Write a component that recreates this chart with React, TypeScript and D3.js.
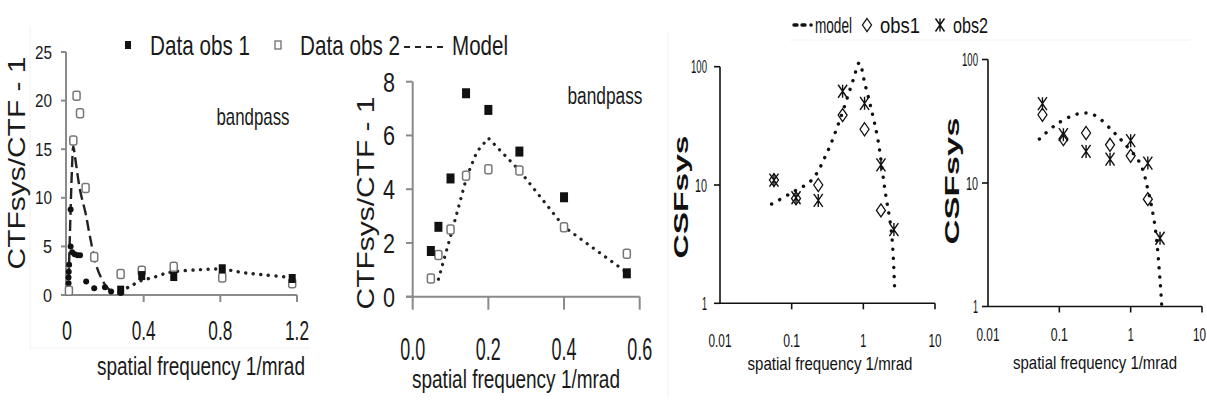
import * as d3 from "d3";

// panel 1 : CTF ratio, full range
const p1XTicks = [0, 0.4, 0.8, 1.2];
const p1XLabels = ["0", "0.4", "0.8", "1.2"];
const p1YTicks = [0, 5, 10, 15, 20, 25];
const p1Obs2X = [0.01, 0.033, 0.05, 0.068, 0.097, 0.142, 0.28, 0.39, 0.557, 0.81, 1.175];
const p1Obs2Y = [0.45, 15.9, 20.5, 18.7, 11.0, 3.9, 2.15, 2.5, 2.9, 1.8, 1.2];
const p1Obs1X = [0.28, 0.39, 0.557, 0.81, 1.175];
const p1Obs1Y = [0.5, 2.0, 1.9, 2.7, 1.7];
const p1LowX = [0.008, 0.008, 0.009, 0.011, 0.019, 0.019, 0.027, 0.04, 0.055, 0.068, 0.1, 0.142, 0.198, 0.23, 0.28];
const p1LowY = [1.2, 1.8, 2.4, 3.1, 5.0, 8.8, 4.4, 4.2, 4.1, 4.1, 1.4, 0.7, 0.8, 0.35, 0.2];
const p1DashX = [0.006, 0.012, 0.019, 0.026, 0.033, 0.042, 0.068, 0.097, 0.12, 0.155, 0.2, 0.24];
const p1DashY = [0, 4, 8.8, 13, 15.3, 14.2, 10.8, 8.4, 6, 2.9, 1.0, 0.2];
const p1DotX = [0.28, 0.33, 0.39, 0.45, 0.51, 0.557, 0.69, 0.81, 0.92, 1.04, 1.175];
const p1DotY = [0.4, 0.9, 1.5, 1.8, 2.2, 2.4, 2.6, 2.65, 2.3, 2.05, 1.8];

// panel 2 : CTF ratio, zoomed
const p2XTicks = [0, 0.2, 0.4, 0.6];
const p2XLabels = ["0.0", "0.2", "0.4", "0.6"];
const p2YTicks = [0, 2, 4, 6, 8];
const p2Freq = [0.048, 0.068, 0.1, 0.141, 0.2, 0.282, 0.4, 0.566];
const p2Obs1 = [1.7, 2.6, 4.4, 7.57, 6.95, 5.4, 3.7, 0.87];
const p2Obs2 = [0.68, 1.55, 2.5, 4.5, 4.74, 4.7, 2.58, 1.6];
const p2ModelX = [0.068, 0.085, 0.107, 0.143, 0.17, 0.2, 0.282, 0.4, 0.566];
const p2ModelY = [0.65, 1.5, 2.6, 4.47, 5.4, 5.9, 4.7, 2.6, 0.9];

// panels 3 and 4 : CSF, log-log
const logXTicks = [0.01, 0.1, 1, 10];
const logXLabels = ["0.01", "0.1", "1", "10"];
const logYTicks = [1, 10, 100];
const logYLabels = ["1", "10", "100"];
const p3ModelX = [0.0526, 0.1, 0.19, 0.308, 0.47, 0.72, 0.88, 1.05, 1.3, 1.6, 2.0, 2.48, 2.75];
const p3ModelY = [6.9, 8.6, 11.0, 18.5, 35.5, 77, 108, 72, 43, 24, 9.1, 3.9, 1.2];
const p3Obs1X = [0.0566, 0.115, 0.235, 0.514, 1.04, 1.76];
const p3Obs1Y = [11, 7.7, 10, 39, 29.6, 6.1];
const p3Obs2X = [0.0566, 0.115, 0.235, 0.514, 1.04, 1.76, 2.67];
const p3Obs2Y = [11, 7.8, 7.4, 62, 49, 14.8, 4.2];
const p4ModelX = [0.0525, 0.092, 0.166, 0.237, 0.334, 0.57, 0.79, 1.35, 1.77, 2.2, 2.58, 2.73];
const p4ModelY = [22.7, 30, 35.7, 36.9, 34.6, 26, 21.3, 14.5, 8.5, 4.4, 1.64, 1.0];
const p4Obs1X = [0.058, 0.114, 0.237, 0.514, 1.0, 1.74];
const p4Obs1Y = [35.7, 22.7, 25.4, 20.4, 16.6, 7.4];
const p4Obs2X = [0.058, 0.114, 0.237, 0.514, 1.0, 1.74, 2.58];
const p4Obs2Y = [43.9, 24.6, 18, 15.6, 22, 14.5, 3.57];

const FONT = "'Liberation Sans', Arial, sans-serif";

type TProps = {
  x: number;
  y: number;
  size: number;
  len?: number;
  anchor?: "start" | "middle" | "end";
  weight?: string;
  rotate?: boolean;
  fill?: string;
  children: string;
};
const T = ({ x, y, size, len, anchor = "middle", weight, rotate, fill = "#1a1a1a", children }: TProps) => (
  <text
    x={x}
    y={y}
    fontSize={size}
    fontFamily={FONT}
    fontWeight={weight}
    textAnchor={anchor}
    textLength={len}
    lengthAdjust={len ? "spacingAndGlyphs" : undefined}
    fill={fill}
    transform={rotate ? `rotate(-90 ${x} ${y})` : undefined}
  >
    {children}
  </text>
);

const zip = (xs: number[], ys: number[]) => xs.map((x, i) => [x, ys[i]] as [number, number]);

const Diamond = ({ x, y }: { x: number; y: number }) => (
  <path d={`M${x},${y - 6.5}L${x + 4.5},${y}L${x},${y + 6.5}L${x - 4.5},${y}Z`} fill="none" stroke="#111" strokeWidth={1.3} />
);
const Star = ({ x, y }: { x: number; y: number }) => (
  <path
    d={`M${x - 4.5},${y - 6.5}L${x + 4.5},${y + 6.5}M${x + 4.5},${y - 6.5}L${x - 4.5},${y + 6.5}M${x},${y - 6.5}L${x},${y + 6.5}`}
    fill="none"
    stroke="#111"
    strokeWidth={1.4}
  />
);

export default function App() {
  // panel 1
  const x1 = d3.scaleLinear().domain([0, 1.2]).range([67, 297]);
  const y1 = d3.scaleLinear().domain([0, 25]).range([295, 52]);
  // panel 2
  const x2 = d3.scaleLinear().domain([0, 0.6]).range([412.7, 639.7]);
  const y2 = d3.scaleLinear().domain([0, 8]).range([296.7, 81.7]);
  // panel 3
  const x3 = d3.scaleLog().domain([0.01, 10]).range([720, 935]);
  const y3 = d3.scaleLog().domain([1, 100]).range([303.3, 66.7]);
  // panel 4
  const x4 = d3.scaleLog().domain([0.01, 10]).range([988, 1202]);
  const y4 = d3.scaleLog().domain([1, 100]).range([306.5, 59.5]);

  const line1 = d3.line<[number, number]>().x((d) => x1(d[0])).y((d) => y1(d[1])).curve(d3.curveCatmullRom);
  const line2 = d3.line<[number, number]>().x((d) => x2(d[0])).y((d) => y2(d[1]));
  const line3 = d3.line<[number, number]>().x((d) => x3(d[0])).y((d) => y3(d[1])).curve(d3.curveCatmullRom);
  const line4 = d3.line<[number, number]>().x((d) => x4(d[0])).y((d) => y4(d[1])).curve(d3.curveCatmullRom);

  const grey = "#8a8a8a";

  return (
    <svg width={1207} height={404} style={{ position: "absolute", left: 0, top: 0, background: "#fff" }}>
      <rect width={1207} height={404} fill="#fff" />

      {/* faint frame leftovers */}
      <g fill="none" stroke="#f2f2f2" strokeWidth={1}>
        <line x1={30} x2={30} y1={26} y2={348} />
        <line x1={30} x2={310} y1={348} y2={348} />
        <line x1={668} x2={668} y1={32} y2={397} />
        <line x1={790} x2={1190} y1={40} y2={40} />
      </g>

      {/* ---------- panel 1 ---------- */}
      <g stroke={grey} strokeWidth={2}>
        <line x1={66} x2={66} y1={y1(25)} y2={y1(0)} />
        <line x1={66} x2={x1(1.2)} y1={y1(0)} y2={y1(0)} />
        {p1YTicks.map((t) => (
          <line key={t} x1={61} x2={66} y1={y1(t)} y2={y1(t)} />
        ))}
        {p1XTicks.slice(1).map((t) => (
          <line key={t} x1={x1(t)} x2={x1(t)} y1={y1(0)} y2={y1(0) + 7} />
        ))}
      </g>
      {p1YTicks.map((t) => (
        <T key={t} x={52} y={y1(t) + 6.5} size={18} anchor="end" len={t >= 10 ? 17 : 9}>
          {String(t)}
        </T>
      ))}
      {p1XTicks.map((t, i) => (
        <T key={t} x={x1(t)} y={340} size={28} len={i === 0 ? 10 : 24}>
          {p1XLabels[i]}
        </T>
      ))}
      <T x={201} y={375} size={26} len={208}>spatial frequency 1/mrad</T>
      <T x={25} y={163} size={24} len={213} rotate>CTFsys/CTF - 1</T>
      <T x={253} y={125} size={24} len={73}>bandpass</T>

      <path d={line1(zip(p1DashX, p1DashY)) ?? ""} fill="none" stroke="#222" strokeWidth={2.4} strokeDasharray="11 5" />
      <path d={line1(zip(p1DotX, p1DotY)) ?? ""} fill="none" stroke="#222" strokeWidth={3.4} strokeDasharray="0.1 7.5" strokeLinecap="round" />
      {zip(p1LowX, p1LowY).map(([x, y], i) => (
        <circle key={i} cx={x1(x)} cy={y1(y)} r={3} fill="#111" />
      ))}
      {zip(p1Obs2X, p1Obs2Y).map(([x, y], i) => (
        <rect key={i} x={x1(x) - 3.5} y={y1(y) - 4.5} width={7} height={9} rx={2} fill="#fff" stroke="#777" strokeWidth={1.5} />
      ))}
      {zip(p1Obs1X, p1Obs1Y).map(([x, y], i) => (
        <rect key={i} x={x1(x) - 3.5} y={y1(y) - 4.5} width={7} height={9} fill="#111" />
      ))}

      {/* legend shared by panels 1 and 2 */}
      <rect x={125} y={41} width={6} height={8} fill="#111" />
      <T x={150} y={55} size={28} len={100} anchor="start">Data obs 1</T>
      <rect x={275} y={41} width={6} height={8} fill="#fff" stroke="#777" strokeWidth={1.4} />
      <T x={300} y={55} size={28} len={100} anchor="start">Data obs 2</T>
      <line x1={404} x2={446} y1={47} y2={47} stroke="#222" strokeWidth={2} strokeDasharray="6 5" />
      <T x={452} y={55} size={28} len={56} anchor="start">Model</T>

      {/* ---------- panel 2 ---------- */}
      <g stroke={grey} strokeWidth={2}>
        <line x1={x2(0)} x2={x2(0)} y1={y2(8)} y2={y2(0) + 13} />
        <line x1={406} x2={x2(0.6)} y1={y2(0)} y2={y2(0)} />
        {p2YTicks.map((t) => (
          <line key={t} x1={406} x2={x2(0)} y1={y2(t)} y2={y2(t)} />
        ))}
        {p2XTicks.slice(1).map((t) => (
          <line key={t} x1={x2(t)} x2={x2(t)} y1={y2(0)} y2={y2(0) + 13} />
        ))}
      </g>
      {p2YTicks.map((t) => (
        <T key={t} x={395} y={y2(t) + 10} size={28} anchor="end" len={12}>
          {String(t)}
        </T>
      ))}
      {p2XTicks.map((t, i) => (
        <T key={t} x={x2(t)} y={360} size={32} len={25}>
          {p2XLabels[i]}
        </T>
      ))}
      <T x={516} y={388} size={25} len={208}>spatial frequency 1/mrad</T>
      <T x={374} y={203} size={24} len={213} rotate>CTFsys/CTF - 1</T>
      <T x={605} y={104} size={23} len={75}>bandpass</T>

      <path d={line2(zip(p2ModelX, p2ModelY)) ?? ""} fill="none" stroke="#222" strokeWidth={3.2} strokeDasharray="0.1 7.5" strokeLinecap="round" />
      {zip(p2Freq, p2Obs2).map(([x, y], i) => (
        <rect key={i} x={x2(x) - 3.5} y={y2(y) - 4.5} width={7} height={9} rx={2} fill="#fff" stroke="#777" strokeWidth={1.5} />
      ))}
      {zip(p2Freq, p2Obs1).map(([x, y], i) => (
        <rect key={i} x={x2(x) - 4} y={y2(y) - 5} width={8} height={10} fill="#111" />
      ))}

      {/* ---------- panel 3 ---------- */}
      <g stroke="#111" strokeWidth={1.6}>
        <line x1={720} x2={720} y1={y3(100)} y2={y3(1)} />
        <line x1={720} x2={x3(10)} y1={y3(1)} y2={y3(1)} />
        {logYTicks.map((t) => (
          <line key={t} x1={714} x2={720} y1={y3(t)} y2={y3(t)} />
        ))}
        {logXTicks.slice(1).map((t) => (
          <line key={t} x1={x3(t)} x2={x3(t)} y1={y3(1)} y2={y3(1) + 6} />
        ))}
      </g>
      {logYTicks.map((t, i) => (
        <T key={t} x={707} y={y3(t) + 6.5} size={18} anchor="end" len={[5, 12, 16][i]} fill="#111">
          {logYLabels[i]}
        </T>
      ))}
      {logXTicks.map((t, i) => (
        <T key={t} x={x3(t)} y={347} size={19} len={[23, 17, 6, 13][i]} fill="#111">
          {logXLabels[i]}
        </T>
      ))}
      <T x={830} y={370} size={19} len={165} fill="#111">spatial frequency 1/mrad</T>
      <T x={688} y={197} size={21} len={123} weight="bold" rotate fill="#111">CSFsys</T>

      <path d={line3(zip(p3ModelX, p3ModelY)) ?? ""} fill="none" stroke="#111" strokeWidth={3.4} strokeDasharray="0.1 9" strokeLinecap="round" />
      {zip(p3Obs1X, p3Obs1Y).map(([x, y], i) => (
        <Diamond key={i} x={x3(x)} y={y3(y)} />
      ))}
      {zip(p3Obs2X, p3Obs2Y).map(([x, y], i) => (
        <Star key={i} x={x3(x)} y={y3(y)} />
      ))}

      {/* legend for panels 3 and 4 */}
      <g stroke="#111" strokeWidth={3.4} strokeLinecap="round">
        <line x1={794} x2={797} y1={25} y2={25} />
        <line x1={802} x2={805} y1={25} y2={25} />
        <line x1={811} x2={811.1} y1={25} y2={25} />
      </g>
      <T x={815} y={33} size={22} len={37} anchor="start" fill="#111">model</T>
      <Diamond x={867} y={25} />
      <T x={880} y={33} size={22} len={40} anchor="start" fill="#111">obs1</T>
      <Star x={940} y={25} />
      <T x={953} y={33} size={22} len={35} anchor="start" fill="#111">obs2</T>

      {/* ---------- panel 4 ---------- */}
      <g stroke="#111" strokeWidth={1.6}>
        <line x1={988} x2={988} y1={y4(100)} y2={y4(1)} />
        <line x1={988} x2={x4(10)} y1={y4(1)} y2={y4(1)} />
        {logYTicks.map((t) => (
          <line key={t} x1={982} x2={988} y1={y4(t)} y2={y4(t)} />
        ))}
        {logXTicks.slice(1).map((t) => (
          <line key={t} x1={x4(t)} x2={x4(t)} y1={y4(1)} y2={y4(1) + 6} />
        ))}
      </g>
      {logYTicks.map((t, i) => (
        <T key={t} x={978} y={y4(t) + 6.5} size={18} anchor="end" len={[5, 12, 16][i]} fill="#111">
          {logYLabels[i]}
        </T>
      ))}
      {logXTicks.map((t, i) => (
        <T
          key={t}
          x={i === 3 ? 1206 : x4(t)}
          y={341}
          size={19}
          anchor={i === 3 ? "end" : "middle"}
          len={[23, 17, 6, 13][i]}
          fill="#111"
        >
          {logXLabels[i]}
        </T>
      ))}
      <T x={1095} y={369} size={19} len={164} fill="#111">spatial frequency 1/mrad</T>
      <T x={959} y={181} size={21} len={127} weight="bold" rotate fill="#111">CSFsys</T>

      <path d={line4(zip(p4ModelX, p4ModelY)) ?? ""} fill="none" stroke="#111" strokeWidth={3.4} strokeDasharray="0.1 9" strokeLinecap="round" />
      {zip(p4Obs1X, p4Obs1Y).map(([x, y], i) => (
        <Diamond key={i} x={x4(x)} y={y4(y)} />
      ))}
      {zip(p4Obs2X, p4Obs2Y).map(([x, y], i) => (
        <Star key={i} x={x4(x)} y={y4(y)} />
      ))}
    </svg>
  );
}
